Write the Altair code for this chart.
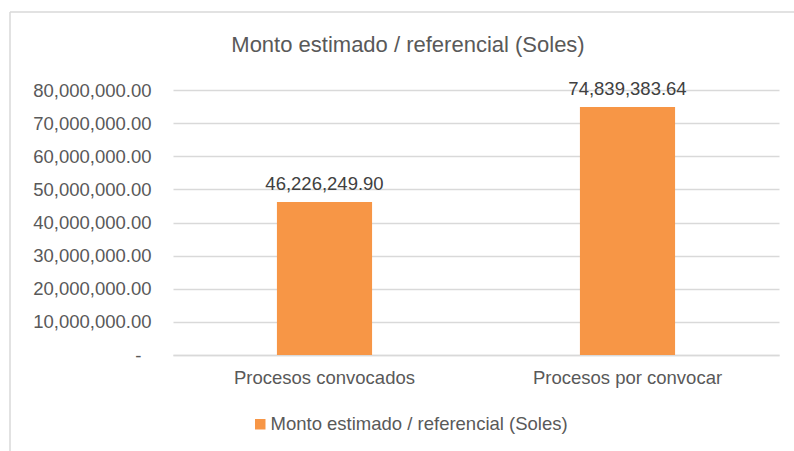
import altair as alt
import pandas as pd

categories = ["Procesos convocados", "Procesos por convocar"]
values = [46226249.90, 74839383.64]
series_name = "Monto estimado / referencial (Soles)"
y_ticks = [0, 10000000, 20000000, 30000000, 40000000, 50000000, 60000000, 70000000, 80000000]

df = pd.DataFrame({"cat": categories, "val": values, "serie": [series_name] * len(categories)})

FONT = "Liberation Sans"
GRAY = "#595959"
ORANGE = "#F79646"

base = alt.Chart(df)

x = alt.X("cat:N", sort=categories, title=None,
          scale=alt.Scale(paddingInner=0.686, paddingOuter=0.343),
          axis=alt.Axis(labelAngle=0, ticks=False, domain=True, domainColor="#d9d9d9",
                        domainWidth=1.5, labelFont=FONT, labelFontSize=18.5,
                        labelColor=GRAY, labelPadding=13, grid=False, labelLimit=0))
y = alt.Y("val:Q", title=None,
          scale=alt.Scale(domain=[0, 80000000]),
          axis=alt.Axis(values=y_ticks, ticks=False, domain=False, grid=True,
                        gridColor="#d9d9d9", gridWidth=1.5, labelOverlap=False,
                        labelExpr="datum.value == 0 ? '-' : format(datum.value, ',.2f')",
                        labelFont=FONT, labelFontSize=18.5, labelColor=GRAY,
                        labelPadding={"condition": {"test": "datum.value == 0", "value": 32},
                                      "value": 22},
                        labelLimit=0))

bars = base.mark_bar().encode(
    x=x, y=y,
    color=alt.Color("serie:N", scale=alt.Scale(range=[ORANGE]),
                    legend=alt.Legend(title=None, orient="none", legendX=78, legendY=325,
                                      symbolType="square", symbolSize=110,
                                      symbolStrokeWidth=0, labelFont=FONT,
                                      labelFontSize=18.5, labelColor=GRAY,
                                      labelOffset=1, padding=0, labelLimit=0)),
)

labels = base.mark_text(font=FONT, fontSize=18.5, color="#404040",
                        baseline="alphabetic", dy=-12).encode(
    x=x,
    y=y,
    text=alt.Text("val:Q", format=",.2f"),
)

border_df = pd.DataFrame({"k": [0]})
border_left = alt.Chart(border_df).mark_rule(color="#d9d9d9", strokeWidth=1.5).encode(
    x=alt.value(-163), x2=alt.value(-163), y=alt.value(-78), y2=alt.value(400))
border_top = alt.Chart(border_df).mark_rule(color="#d9d9d9", strokeWidth=1.5).encode(
    x=alt.value(-163), x2=alt.value(700), y=alt.value(-78), y2=alt.value(-78))

chart = alt.layer(border_left, border_top, bars, labels).properties(
    width=606, height=265,
    background="white",
    title=alt.TitleParams(series_name, font=FONT, fontSize=22, fontWeight="normal",
                          color=GRAY, anchor="middle", dx=-68, offset=-46),
    autosize=alt.AutoSizeParams(type="none"),
    padding={"left": 173, "top": 90, "right": 15, "bottom": 96},
).configure_view(stroke=None)

chart.save("out.html", embed_options={"renderer": "svg", "actions": False})
